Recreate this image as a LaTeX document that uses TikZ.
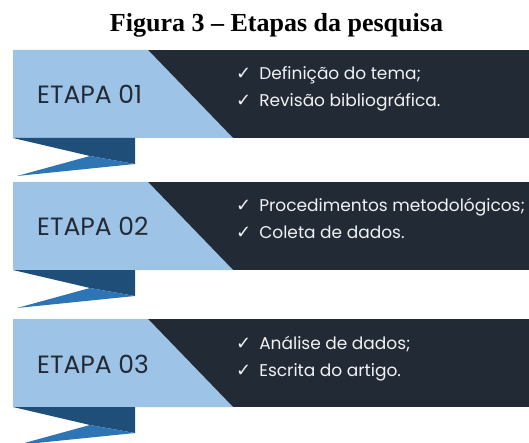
\documentclass[tikz,border=0pt]{standalone}
\usepackage{fontspec}
\setmainfont{Liberation Serif}
\newfontfamily\etapafont{Poppins}
\newfontfamily\checkfont{DejaVu Sans}
\usetikzlibrary{positioning}
\definecolor{lightband}{HTML}{9DC3E6}
\definecolor{darkband}{HTML}{222A35}
\definecolor{ribbondark}{HTML}{1F4E79}
\definecolor{ribbonmid}{HTML}{2E75B6}
\definecolor{textlight}{HTML}{F2F2F2}
\newcommand{\chk}{{\checkfont\fontsize{18}{18}\selectfont ✓}\hspace{8pt}}

\begin{document}
\begin{tikzpicture}[x=1pt,y=-1pt,
    etapa/.style={font=\etapafont\fontsize{25}{25}\selectfont,text=darkband,
      anchor=base west,inner sep=0pt},
    item/.style={font=\etapafont\fontsize{17}{17}\selectfont,text=textlight,
      anchor=base west,inner sep=0pt}]
  \useasboundingbox (0,0) rectangle (529,443);
  \clip (0,0) rectangle (529,443);

  \node[font=\bfseries\fontsize{26}{26}\selectfont,anchor=base] (title)
    at (276.5,32) {Figura 3 – Etapas da pesquisa};

  \foreach \t/\n/\a/\b in {50/01/{Definição do tema;}/{Revisão bibliográfica.},
      182/02/{Procedimentos metodológicos;}/{Coleta de dados.},
      319/03/{Análise de dados;}/{Escrita do artigo.}}{
    % band
    \fill[darkband] (13,\t) rectangle (529,\t+88);
    \fill[lightband] (13,\t) -- (148,\t) -- (233,\t+88) -- (13,\t+88) -- cycle;
    % ribbon fold
    \fill[ribbondark] (13,\t+88) -- (135,\t+88) -- (135,\t+114) -- (90,\t+106) -- cycle;
    \fill[ribbonmid] (90,\t+106) -- (135,\t+114) -- (17,\t+126) -- cycle;
    % texts
    \node[etapa] (etapa\n) at (37,\t+54) {ETAPA \n};
    \node[item] (a\n) at (236,\t+30) {\chk\a};
    \node[item] (b\n) at (236,\t+57) {\chk\b};
  }
\end{tikzpicture}
\end{document}
